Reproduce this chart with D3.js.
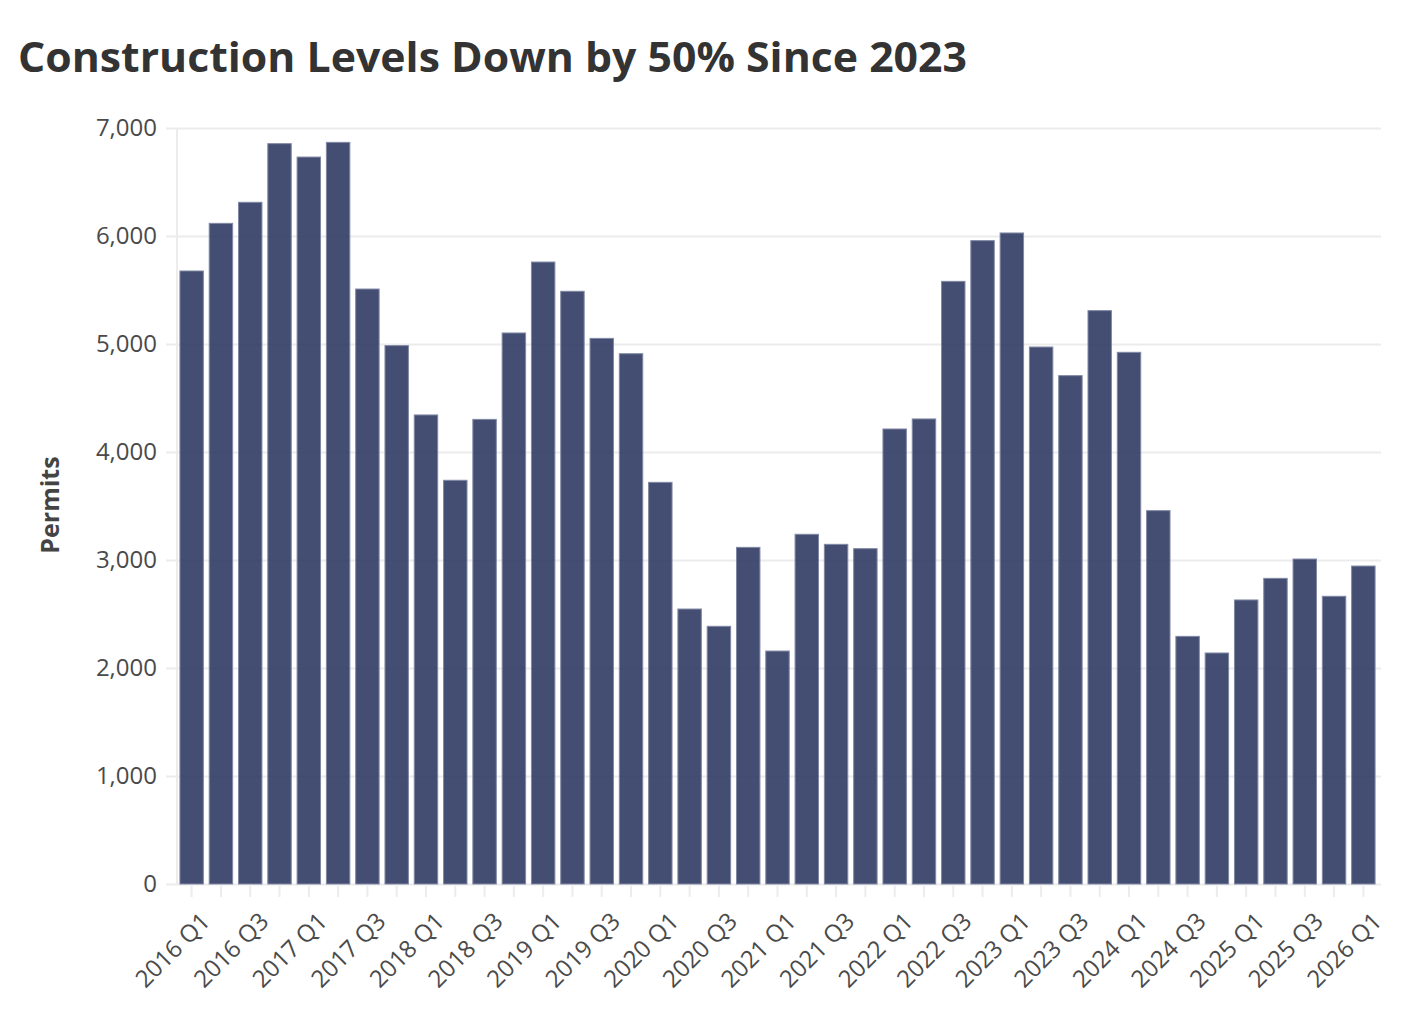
<!DOCTYPE html>
<html lang="en">
<head>
<meta charset="UTF-8">
<title>Construction Levels Down by 50% Since 2023</title>
<script src="https://cdn.jsdelivr.net/npm/d3@7"></script>
<style>
    body { margin: 0; background: #fff; }
    .title { font: 700 41px "Open Sans", sans-serif; fill: #333; }
    .tick text { font: 24px "Open Sans", sans-serif; fill: #4a4a4a; }
    .axis-title { font: 700 25px "Open Sans", sans-serif; fill: #444; }
    .grid line { stroke: #ececec; stroke-width: 2px; }
    .bar { fill: #2f3b63; fill-opacity: 0.9; stroke: #8088a4; stroke-width: 1px; }
</style>
</head>
<body>
<div id="chart"></div>
<script>
// quarterly permit counts, 2016 Q1 .. 2026 Q1
const quarters = [];
for (let y = 2016; y <= 2026; y++) {
    for (let q = 1; q <= 4; q++) {
        if (y === 2026 && q > 1) break;
        quarters.push(y + " Q" + q);
    }
}
const permits = [
    5676, 6117, 6312, 6855, 6731, 6867, 5509, 4985, 4343, 3738,
    4302, 5102, 5759, 5488, 5052, 4910, 3719, 2546, 2386, 3117,
    2157, 3238, 3145, 3105, 4213, 4306, 5580, 5957, 6028, 4972,
    4707, 5309, 4923, 3457, 2293, 2139, 2630, 2830, 3009, 2664,
    2944
];
const yTicks = [0, 1000, 2000, 3000, 4000, 5000, 6000, 7000];

const width = 1426, height = 1012;
const plotLeft = 177, plotRight = 1378, plotTop = 128, plotBottom = 884;

const svg = d3.select("#chart").append("svg")
    .attr("width", width)
    .attr("height", height);

svg.append("text")
    .attr("class", "title")
    .attr("x", 18)
    .attr("y", 72)
    .attr("textLength", 949)
    .attr("lengthAdjust", "spacingAndGlyphs")
    .text("Construction Levels Down by 50% Since 2023");

const x = d3.scaleBand()
    .domain(quarters)
    .range([plotLeft, plotRight])
    .paddingInner(0.2)
    .paddingOuter(0.1);

const y = d3.scaleLinear()
    .domain([0, 7000])
    .range([plotBottom, plotTop]);

// horizontal grid + y labels
const yAxis = svg.append("g")
    .attr("class", "grid")
    .attr("transform", `translate(${plotLeft},0)`)
    .call(d3.axisLeft(y)
        .tickValues(yTicks)
        .tickSize(-(1381 - plotLeft))
        .tickSizeOuter(0)
        .tickPadding(20)
        .tickFormat(d3.format(",")));
yAxis.select(".domain").remove();
yAxis.selectAll(".tick line").attr("x1", -11);
yAxis.selectAll(".tick text").attr("dy", "0.32em");

// vertical axis line
svg.append("line")
    .attr("x1", plotLeft).attr("x2", plotLeft)
    .attr("y1", plotTop).attr("y2", plotBottom)
    .attr("stroke", "#ececec").attr("stroke-width", 2);

svg.append("g")
    .selectAll("rect")
    .data(permits)
    .join("rect")
    .attr("class", "bar")
    .attr("x", (d, i) => x(quarters[i]))
    .attr("width", x.bandwidth())
    .attr("y", d => y(d))
    .attr("height", d => y(0) - y(d));

// x axis
const xAxis = svg.append("g")
    .attr("class", "grid")
    .attr("transform", `translate(0,${plotBottom + 2})`)
    .call(d3.axisBottom(x)
        .tickSize(11)
        .tickSizeOuter(0)
        .tickFormat((d, i) => i % 2 === 0 ? d : ""));
xAxis.select(".domain").remove();
xAxis.selectAll(".tick text")
    .attr("text-anchor", "end")
    .attr("dx", 0)
    .attr("dy", 0)
    .attr("transform", "translate(10,27) rotate(-45)");

svg.append("text")
    .attr("class", "axis-title")
    .attr("transform", `translate(59,505) rotate(-90)`)
    .attr("text-anchor", "middle")
    .text("Permits");
</script>
</body>
</html>
